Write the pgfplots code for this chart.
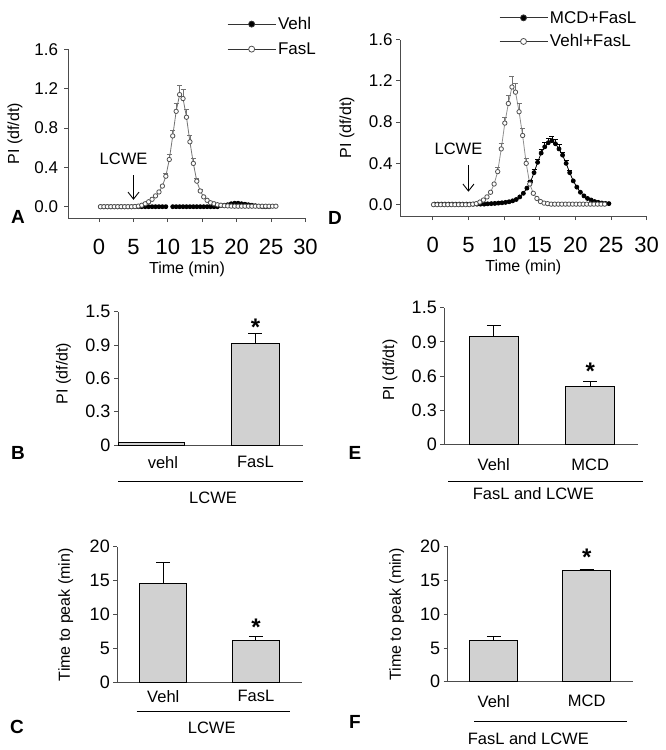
\documentclass[border=0pt]{standalone}
\usepackage{pgfplots}
\pgfplotsset{compat=1.18}
\usepackage{fontspec}
\setmainfont{Liberation Sans}
\usetikzlibrary{arrows.meta}

\definecolor{barfill}{gray}{0.82}
\definecolor{opengray}{gray}{0.45}
\definecolor{axisgray}{gray}{0.3}

\newcommand{\fs}[1]{\fontsize{#1}{#1}\selectfont}
\tikzset{starmark/.style={font=\bfseries\fs{24}}}

\pgfplotsset{
  base/.style={
    scale only axis, anchor=south west, clip=false,
    axis x line*=bottom, axis y line*=left,
    axis line style={line width=0.9pt, axisgray},
    tick style={line width=0.9pt, axisgray},
    tick align=outside, major tick length=4pt,
    /pgf/number format/assume math mode=true,
    yticklabel style={font=\fs{17}},
    label style={font=\fs{16}},
  },
  curvepanel/.style={
    base,
    xtick={0,5,10,15,20,25,30}, ytick={0,0.4,0.8,1.2,1.6},
    xticklabel style={font=\fs{22}, yshift=-14pt},
    yticklabel style={/pgf/number format/fixed, /pgf/number format/fixed zerofill,
      /pgf/number format/precision=1},
    unbounded coords=jump,
    xlabel={Time (min)}, ylabel={PI (df/dt)},
    xlabel style={at={([yshift=-51pt]axis description cs:0.5,0)}, anchor=center},
    legend cell align=left,
    legend style={draw=none, fill=none, anchor=north west, font=\fs{17},
      row sep=6pt, inner sep=0pt},
    legend image code/.code={\draw[mark repeat=2, mark phase=2, ##1, draw=black!80, mark size=3pt]
      plot coordinates {(0pt,0pt) (24pt,0pt) (48pt,0pt)};},
  },
  barpanel/.style={
    base, ymin=0, xtick={1,2}, xtick style={draw=none},
    xticklabel style={font=\fs{16.5}},
    yticklabel style={font=\fs{18}},
  },
  filledmk/.style={black, line width=0.8pt, mark=*, mark size=2pt,
    mark options={solid, fill=black}},
  openmk/.style={opengray, line width=0.8pt, mark=*, mark size=2.2pt,
    mark options={solid, fill=white, draw=opengray!70!black}},
  errgray/.style={forget plot, draw=none, mark=none, error bars/.cd,
    y dir=plus, y explicit,
    error bar style={draw=opengray, line width=0.7pt},
    error mark options={draw=opengray, rotate=90, mark size=2.5pt, line width=0.7pt}},
  errblack/.style={forget plot, draw=none, mark=none, error bars/.cd,
    y dir=plus, y explicit,
    error bar style={draw=black, line width=0.7pt},
    error mark options={draw=black, rotate=90, mark size=2.5pt, line width=0.7pt}},
  bar/.style={ybar, bar shift=0pt, fill=barfill, draw=black, line width=1pt,
    error bars/.cd, y dir=plus, y explicit,
    error bar style={line width=1pt, black},
    error mark options={rotate=90, mark size=7pt, line width=1pt, black}},
}

\begin{document}
\begin{tikzpicture}
\useasboundingbox (0pt,0pt) rectangle (665pt,-750pt);

% ---------- A ----------
\begin{axis}[curvepanel, at={(68.5pt,-218pt)}, width=237pt, height=168.6pt,
  xmin=-4.45, xmax=30, ymin=-0.115, ymax=1.6,
  yticklabel style={xshift=-3pt},
  ylabel style={at={([xshift=-53.5pt]axis description cs:0,0.5)}, anchor=center},
  legend style={at={(0.669,1.204)}, row sep=7.5pt}]
\addplot[filledmk] table {
0.2 0
0.7 0
1.2 0
1.7 0
2.2 0
2.7 0
3.2 0
3.7 0
4.2 0
4.7 0
5.2 0
5.7 0
6.2 0
6.7 0
7.2 0
7.7 0
8.2 0
8.7 0
9.2 0
9.7 0
10.2 nan
10.7 0
11.2 0
11.7 0
12.2 0
12.7 0
13.2 0
13.7 0
14.2 0
14.7 0
15.2 0
15.7 0
16.2 0
16.7 0
17.2 0
17.7 0.01
18.2 0.015
18.7 0.02
19.2 0.03
19.7 0.035
20.2 0.035
20.7 0.03
21.2 0.025
21.7 0.02
22.2 0.015
22.7 0.01
23.2 0.005
23.7 0
24.2 0
24.7 0
};
\addlegendentry{Vehl}
\addplot[openmk] table {
0.2 0
0.7 0
1.2 0
1.7 0
2.2 0
2.7 0
3.2 0
3.7 0
4.2 0
4.7 0
5.2 0.002
5.7 0.006
6.2 0.015
6.7 0.03
7.2 0.05
7.7 0.075
8.2 0.11
8.7 0.15
9.2 0.21
9.7 0.31
10.2 0.48
10.7 0.72
11.2 0.97
11.7 1.14
12.2 1.10
12.7 0.91
13.2 0.66
13.7 0.44
14.2 0.26
14.7 0.16
15.2 0.10
15.7 0.065
16.2 0.04
16.7 0.03
17.2 0.02
17.7 0.015
18.2 0.01
18.7 0.008
19.2 0.006
19.7 0.005
20.2 0.005
20.7 0.005
21.2 0.005
21.7 0.005
22.2 0.005
22.7 0.005
23.2 0.005
23.7 0.005
24.2 0.005
24.7 0.005
25.2 0.005
25.7 0.005
};
\addlegendentry{FasL}
\addplot[errgray] table[y error index=2] {
9.7 0.31 0.03
10.2 0.48 0.05
10.7 0.72 0.06
11.2 0.97 0.08
11.7 1.14 0.09
12.2 1.10 0.09
12.7 0.91 0.08
13.2 0.66 0.07
13.7 0.44 0.05
14.2 0.26 0.03
14.7 0.16 0.02
};
\node[font=\fs{16.5}] at (axis cs:3.55,0.49) {LCWE};
\draw[-{Straight Barb[length=7pt,width=11pt]}, line width=0.9pt]
  (axis cs:5,0.32) -- (axis cs:5,0.07);
\end{axis}

% ---------- D ----------
\begin{axis}[curvepanel, at={(400pt,-216pt)}, width=246.7pt, height=176.5pt,
  xmin=-4.6, xmax=30, ymin=-0.11, ymax=1.6,
  ylabel style={at={([xshift=-53pt]axis description cs:0,0.5)}, anchor=center},
  legend style={at={(0.401,1.173)}, nodes={xshift=4pt}}]
\addplot[filledmk] table {
0.2 0.005
0.7 0.005
1.2 0.005
1.7 0.005
2.2 0.005
2.7 0.005
3.2 0.005
3.7 0.005
4.2 0.005
4.7 0.005
5.2 0.005
5.7 0.005
6.2 0.005
6.7 0.005
7.2 0.005
7.7 0.008
8.2 0.01
8.7 0.012
9.2 0.015
9.7 0.018
10.2 0.022
10.7 0.028
11.2 0.037
11.7 0.05
12.2 0.075
12.7 0.11
13.2 0.16
13.7 0.22
14.2 0.31
14.7 0.41
15.2 0.50
15.7 0.56
16.2 0.60
16.7 0.62
17.2 0.59
17.7 0.54
18.2 0.48
18.7 0.40
19.2 0.31
19.7 0.23
20.2 0.17
20.7 0.12
21.2 0.085
21.7 0.06
22.2 0.045
22.7 0.03
23.2 0.022
23.7 0.016
24.2 0.012
24.7 0.01
};
\addlegendentry{MCD+FasL}
\addplot[openmk, draw=opengray!80] table {
0.1 0
0.6 0
1.1 0
1.6 0
2.1 0
2.6 0
3.1 0
3.6 0
4.1 0
4.6 0
5.1 0
5.6 0.005
6.1 0.01
6.6 0.025
7.1 0.045
7.6 0.075
8.1 0.12
8.6 0.20
9.1 0.32
9.6 0.54
10.1 0.79
10.6 0.98
11.1 1.14
11.6 1.09
12.1 0.90
12.6 0.67
13.1 0.40
13.6 0.20
14.1 0.11
14.6 0.06
15.1 0.03
15.6 0.015
16.1 0.01
16.6 0.005
17.1 0.005
17.6 0.005
18.1 0.005
18.6 0.005
19.1 0.005
19.6 0.005
20.1 0.005
20.6 0.005
21.1 0.005
21.6 0.005
22.1 0.005
22.6 0.005
23.1 0.005
23.6 0.005
24.1 0.005
};
\addlegendentry{Vehl+FasL}
\addplot[errblack] table[y error index=2] {
13.7 0.22 0.02
14.2 0.31 0.03
14.7 0.41 0.03
15.2 0.50 0.04
15.7 0.56 0.04
16.2 0.60 0.04
16.7 0.62 0.04
17.2 0.59 0.04
17.7 0.54 0.04
18.2 0.48 0.03
18.7 0.40 0.03
19.2 0.31 0.02
};
\addplot[errgray] table[y error index=2] {
9.1 0.32 0.04
9.6 0.54 0.05
10.1 0.79 0.06
10.6 0.98 0.08
11.1 1.14 0.10
11.6 1.09 0.09
12.1 0.90 0.08
12.6 0.67 0.07
13.1 0.40 0.05
13.6 0.20 0.03
};
\node[font=\fs{16.5}] at (axis cs:3.6,0.545) {LCWE};
\draw[-{Straight Barb[length=7pt,width=11pt]}, line width=0.9pt]
  (axis cs:5,0.38) -- (axis cs:5,0.125);
\end{axis}

% ---------- B ----------
\begin{axis}[barpanel, at={(118pt,-445pt)}, width=185pt, height=133.3pt,
  xmin=0.514, xmax=2.514, ymax=1.2,
  ytick={0,0.3,0.6,0.9,1.2}, yticklabels={0,0.3,0.6,0.9,1.5},
  xticklabels={vehl,FasL}, xticklabel style={yshift=-4pt},
  ylabel={PI (df/dt)},
  ylabel style={at={([xshift=-54.5pt,yshift=5pt]axis description cs:0,0.5)}, anchor=center}]
\addplot[bar width=0.714, bar] table[y error index=2] {
0.881 0.02 0
};
\addplot[bar width=0.515, bar] table[y error index=2] {
2 0.915 0.092
};
\node[starmark] at (axis cs:2,1.06) {*};
\end{axis}
\draw[line width=0.9pt] (118pt,-481pt) -- (303pt,-481pt);
\node[font=\fs{16.5}] at (213pt,-498pt) {LCWE};

% ---------- E ----------
\begin{axis}[barpanel, at={(444.3pt,-444.3pt)}, width=194pt, height=136.6pt,
  xmin=0.487, xmax=2.499, ymax=1.2,
  ytick={0,0.3,0.6,0.9,1.2}, yticklabels={0,0.3,0.6,0.9,1.5},
  xticklabels={Vehl,MCD}, xticklabel style={yshift=-7pt},
  ylabel={PI (df/dt)},
  ylabel style={at={([xshift=-54.3pt,yshift=6pt]axis description cs:0,0.5)}, anchor=center}]
\addplot[bar width=0.504, bar] table[y error index=2] {
1 0.951 0.091
2 0.512 0.044
};
\node[starmark] at (axis cs:2,0.64) {*};
\end{axis}
\draw[line width=0.9pt] (448.3pt,-481pt) -- (643.3pt,-481pt);
\node[font=\fs{16.5}] at (533.3pt,-494pt) {FasL and LCWE};

% ---------- C ----------
\begin{axis}[barpanel, at={(117.3pt,-682.7pt)}, width=184.4pt, height=136pt,
  xmin=0.504, xmax=2.493, ymax=20, ytick={0,5,10,15,20},
  xticklabels={Vehl,FasL},
  ylabel={Time to peak (min)},
  ylabel style={at={([xshift=-51.6pt]axis description cs:0,0.5)}, anchor=center}]
\addplot[bar width=0.504, bar] table[y error index=2] {
1 14.6 3.15
2 6.23 0.53
};
\node[starmark] at (axis cs:2,8.1) {*};
\end{axis}
\draw[line width=0.9pt] (136.7pt,-711pt) -- (290pt,-711pt);
\node[font=\fs{16.5}] at (211.7pt,-728.3pt) {LCWE};

% ---------- F ----------
\begin{axis}[barpanel, at={(447.7pt,-681.7pt)}, width=185.6pt, height=135pt,
  xmin=0.504, xmax=2.502, ymax=20, ytick={0,5,10,15,20},
  xticklabels={Vehl,MCD}, xticklabel style={yshift=-6pt},
  ylabel={Time to peak (min)},
  ylabel style={at={([xshift=-51pt]axis description cs:0,0.5)}, anchor=center}]
\addplot[bar width=0.515, bar] table[y error index=2] {
1 6.12 0.55
2 16.49 0.2
};
\node[starmark] at (axis cs:2,18.4) {*};
\end{axis}
\draw[line width=0.9pt] (474.3pt,-721pt) -- (626.7pt,-721pt);
\node[font=\fs{16.5}] at (528.3pt,-738.3pt) {FasL and LCWE};

% panel letters
\node[font=\bfseries\fs{19}] at (18pt,-217pt) {A};
\node[font=\bfseries\fs{19}] at (335pt,-218pt) {D};
\node[font=\bfseries\fs{19}] at (18pt,-453pt) {B};
\node[font=\bfseries\fs{19}] at (355pt,-453pt) {E};
\node[font=\bfseries\fs{19}] at (17pt,-727pt) {C};
\node[font=\bfseries\fs{19}] at (355pt,-722pt) {F};
\end{tikzpicture}
\end{document}
